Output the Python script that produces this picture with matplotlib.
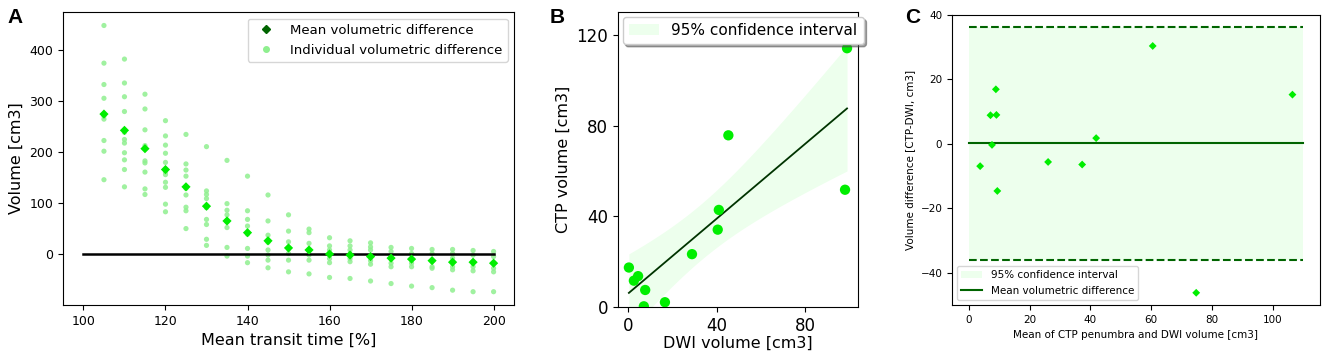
import numpy as np
import matplotlib.pyplot as plt
from matplotlib.lines import Line2D

# Panel A: volumetric difference per MTT threshold
mtt = [105, 110, 115, 120, 125, 130, 135, 140, 145, 150,
       155, 160, 165, 170, 175, 180, 185, 190, 195, 200]
mean_diff = [274, 242, 206, 165, 131, 93, 64, 41, 25, 11,
             7, -1, -3, -6, -9, -11, -14, -17, -17, -19]
indiv_diff = [
    [448, 374, 332, 305, 270, 264, 222, 201, 145],
    [382, 335, 308, 279, 238, 224, 217, 198, 184, 165, 131],
    [313, 284, 243, 212, 182, 178, 160, 127, 116],
    [261, 231, 213, 197, 179, 160, 155, 140, 130, 97, 82],
    [234, 176, 164, 152, 128, 115, 91, 84, 49],
    [210, 123, 116, 108, 90, 67, 57, 28, 16],
    [183, 98, 85, 76, 62, 51, 12, -5],
    [152, 84, 67, 54, 38, 10, -5, -18],
    [115, 64, 36, 22, 7, -3, -13, -28],
    [76, 44, 23, 9, 0, -13, -36],
    [48, 41, 20, 5, -3, -13, -40],
    [31, 15, 7, -1, -10, -18, -47],
    [25, 15, 7, -3, -10, -16, -49],
    [21, 13, 7, -6, -14, -21, -54],
    [12, 4, -9, -19, -26, -59],
    [10, 0, -11, -19, -26, -64],
    [8, 0, -15, -26, -29, -67],
    [8, 0, -9, -17, -26, -32, -72],
    [6, -3, -17, -26, -34, -75],
    [4, -6, -19, -29, -36, -75],
]

# Panel B: DWI vs CTP volumes
dwi = [0.45, 2.7, 4.6, 7.8, 7.2, 16.7, 28.9, 40.5, 41.0, 45.3, 97.9, 98.8]
ctp = [17.4, 11.6, 13.6, 7.5, 0.3, 2.1, 23.3, 34.1, 42.8, 75.7, 51.7, 114.1]

fig = plt.figure(figsize=(13.25, 3.58), dpi=100)
band = (0.93, 1.0, 0.93)

# ---- A
ax1 = fig.add_axes([0.0475, 0.148, 0.3405, 0.818])
xs = [m for m, v in zip(mtt, indiv_diff) for _ in v]
ys = [y for v in indiv_diff for y in v]
ax1.plot([100, 200], [0, 0], color='black', lw=1.8)
ax1.scatter(xs, ys, s=14, color='#8fef8f', alpha=0.85, edgecolors='none')
ax1.scatter(mtt, mean_diff, s=22, marker='D', color='#00ee00', edgecolors='none', zorder=3)
ax1.set_xticks([100, 120, 140, 160, 180, 200])
ax1.set_yticks([0, 100, 200, 300, 400])
ax1.tick_params(labelsize=9)
ax1.set_xlabel('Mean transit time [%]', fontsize=11.5)
ax1.set_ylabel('Volume [cm3]', fontsize=11.5)
h1 = [Line2D([], [], ls='none', marker='D', color='darkgreen', ms=4),
      Line2D([], [], ls='none', marker='o', color='#8fef8f', ms=4)]
ax1.legend(h1, ['Mean volumetric difference', 'Individual volumetric difference'],
           loc='upper right', fontsize=9.5)

# ---- B
ax2 = fig.add_axes([0.4664, 0.1425, 0.1811, 0.8235])
x = np.array(dwi)
y = np.array(ctp)
b, a = np.polyfit(x, y, 1)
grid = np.linspace(x.min(), x.max(), 100)
fit = a + b * grid
n = len(x)
s = np.sqrt(np.sum((y - (a + b * x)) ** 2) / (n - 2))
se = s * np.sqrt(1 / n + (grid - x.mean()) ** 2 / np.sum((x - x.mean()) ** 2))
ax2.fill_between(grid, fit - 2.228 * se, fit + 2.228 * se, color=band, lw=0,
                 label='95% confidence interval')
ax2.plot(grid, fit, color='#003300', lw=1.3)
ax2.scatter(x, y, s=55, color='#00ee00', edgecolors='none', zorder=3)
ax2.set_ylim(0, 130)
ax2.set_xticks([0, 40, 80])
ax2.set_yticks([0, 40, 80, 120])
ax2.tick_params(labelsize=12)
ax2.set_xlabel('DWI volume [cm3]', fontsize=11.5, labelpad=1)
ax2.set_ylabel('CTP volume [cm3]', fontsize=11.5)
ax2.legend(loc='upper left', fontsize=11, shadow=True, borderaxespad=0.3)

# ---- C: Bland-Altman
ax3 = fig.add_axes([0.7185, 0.148, 0.2777, 0.81])
avg = (x + y) / 2
diff = y - x
md = diff.mean()
lim = 1.96 * diff.std()
ax3.fill_between([0, 110], md - lim, md + lim, color=band, lw=0,
                 label='95% confidence interval')
ax3.plot([0, 110], [md, md], color='darkgreen', lw=1.5, label='Mean volumetric difference')
ax3.plot([0, 110], [md + lim] * 2, color='darkgreen', lw=1.5, ls='--')
ax3.plot([0, 110], [md - lim] * 2, color='darkgreen', lw=1.5, ls='--')
ax3.scatter(avg, diff, s=16, marker='D', color='#00ee00', edgecolors='none', zorder=3)
ax3.set_ylim(-50, 40)
ax3.set_yticks([-40, -20, 0, 20, 40])
ax3.set_xticks([0, 20, 40, 60, 80, 100])
ax3.tick_params(labelsize=7.5)
ax3.set_xlabel('Mean of CTP penumbra and DWI volume [cm3]', fontsize=7.5)
ax3.set_ylabel('Volume difference [CTP-DWI, cm3]', fontsize=7.5)
ax3.legend(loc='lower left', fontsize=7.5)

for lbl, xp in [('A', 7), ('B', 550), ('C', 905)]:
    fig.text(xp / 1325, 1 - 8 / 358, lbl, fontsize=15, fontweight='bold',
             family='Liberation Sans', va='top', ha='left')

fig.savefig('out.png', dpi=100)
